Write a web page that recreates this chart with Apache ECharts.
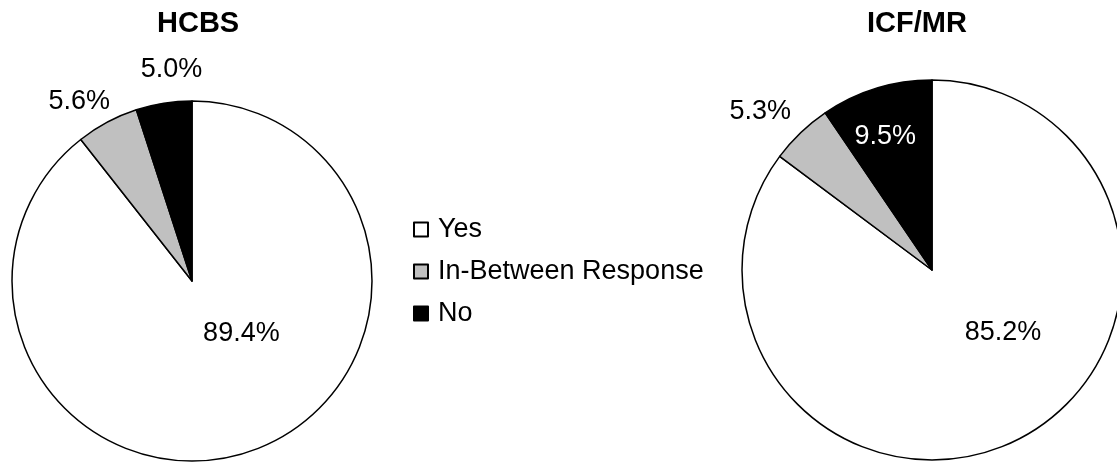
<!DOCTYPE html>
<html>
<head>
<meta charset="utf-8">
<script src="https://cdn.jsdelivr.net/npm/echarts@6/dist/echarts.min.js"></script>
<style>
html,body{margin:0;padding:0;background:#fff;}
#chart{width:1117px;height:463px;}
</style>
</head>
<body>
<div id="chart"></div>
<script>
// ---- data ----
const categories = ['Yes', 'In-Between Response', 'No'];
const hcbsValues = [89.4, 5.6, 5.0];
const icfValues = [85.2, 5.3, 9.5];
const chartTitles = ['HCBS', 'ICF/MR'];

// ---- styling ----
const sliceColors = ['#ffffff', '#c0c0c0', '#000000'];
const hcbsLabelColors = ['#000', '#000', '#000'];
const icfLabelColors = ['#000', '#000', '#fff'];
const hcbsLabelShift = [[19, -35], [-69, -97], [-6, -120]];
const icfLabelShift = [[27, -25], [-104, -88], [-18, -40]];
const FONT = '"Liberation Sans", Arial, sans-serif';

function buildData(values, labelColors) {
  return categories.map((name, i) => ({
    name: name,
    value: values[i],
    itemStyle: { color: sliceColors[i] },
    label: { color: labelColors[i] }
  }));
}

function pieSeries(values, labelColors, shifts, center, radius) {
  return {
    type: 'pie',
    center: center,
    radius: radius,
    startAngle: 90,
    clockwise: true,
    avoidLabelOverlap: false,
    silent: true,
    itemStyle: { borderColor: '#000', borderWidth: 1.5 },
    label: {
      show: true,
      position: 'inside',
      fontFamily: FONT,
      fontSize: 27,
      formatter: p => p.value.toFixed(1) + '%'
    },
    labelLine: { show: false },
    labelLayout: p => ({ dx: shifts[p.dataIndex][0], dy: shifts[p.dataIndex][1] }),
    emphasis: { disabled: true },
    data: buildData(values, labelColors)
  };
}

const chart = echarts.init(document.getElementById('chart'), null, { renderer: 'canvas' });
chart.setOption({
  animation: false,
  backgroundColor: '#ffffff',
  title: [
    { text: chartTitles[0], left: 152, top: 4,
      textStyle: { fontFamily: FONT, fontSize: 29, fontWeight: 'bold', color: '#000' } },
    { text: chartTitles[1], left: 862, top: 4,
      textStyle: { fontFamily: FONT, fontSize: 29, fontWeight: 'bold', color: '#000' } }
  ],
  legend: {
    orient: 'vertical',
    left: 408,
    top: 211,
    icon: 'rect',
    itemWidth: 14,
    itemHeight: 14,
    itemGap: 15,
    selectedMode: false,
    itemStyle: { borderColor: '#000', borderWidth: 2 },
    textStyle: { fontFamily: FONT, fontSize: 27, color: '#000', padding: [0, 0, 0, 5] },
    data: categories
  },
  series: [
    pieSeries(hcbsValues, hcbsLabelColors, hcbsLabelShift, [192, 281], 180),
    pieSeries(icfValues, icfLabelColors, icfLabelShift, [932, 270], 190)
  ]
});
</script>
</body>
</html>
